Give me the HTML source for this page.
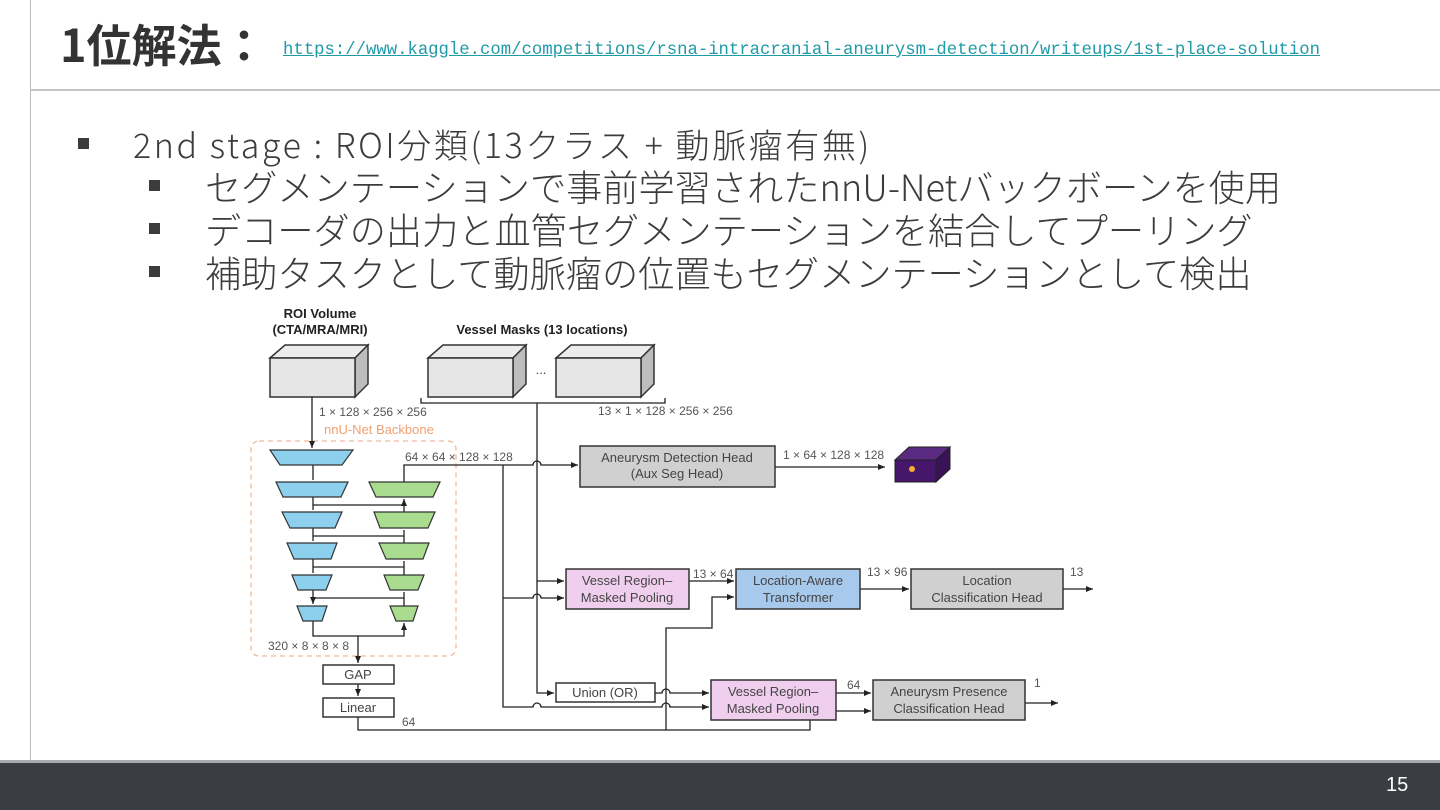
<!DOCTYPE html>
<html><head><meta charset="utf-8"><style>
body{margin:0;width:1440px;height:810px;position:relative;overflow:hidden;background:#fff;font-family:"Noto Sans CJK JP","Liberation Sans",sans-serif;color:#3c3c3c}
.a{position:absolute;white-space:nowrap}
.sq{position:absolute;width:11px;height:11px;background:#3c3c3c}
</style></head><body>
<div class="a" style="left:30px;top:0;width:1px;height:762px;background:#bbb"></div>
<div class="a" style="left:30px;top:89px;width:1410px;height:2px;background:#c4c4c4"></div>
<div class="a" style="left:60px;top:12px;font-size:45px;font-weight:bold;line-height:62px;color:#333">1位解法：</div>
<div class="a" style="left:283px;top:41px;font-family:'Liberation Mono',monospace;font-size:17.3px;color:#1f9aa8;text-decoration:underline">https://www.kaggle.com/competitions/rsna-intracranial-aneurysm-detection/writeups/1st-place-solution</div>
<div class="sq" style="left:78px;top:138px"></div>
<div class="a" style="left:133px;top:122px;font-size:34px;line-height:44px;font-weight:300;letter-spacing:2.6px">2nd stage : ROI分類(13クラス + 動脈瘤有無)</div>
<div class="sq" style="left:149px;top:180px"></div>
<div class="a" style="left:205px;top:164px;font-size:36.2px;line-height:44px;font-weight:300">セグメンテーションで事前学習されたnnU-Netバックボーンを使用</div>
<div class="sq" style="left:149px;top:223px"></div>
<div class="a" style="left:205px;top:207px;font-size:36.2px;line-height:44px;font-weight:300">デコーダの出力と血管セグメンテーションを結合してプーリング</div>
<div class="sq" style="left:149px;top:266px"></div>
<div class="a" style="left:205px;top:250px;font-size:36.2px;line-height:44px;font-weight:300">補助タスクとして動脈瘤の位置もセグメンテーションとして検出</div>

<svg class="a" style="left:0;top:0" width="1440" height="810" viewBox="0 0 1440 810" font-family="Liberation Sans, sans-serif">
<defs><marker id="ar" markerWidth="8" markerHeight="8" refX="7" refY="4" orient="auto" markerUnits="userSpaceOnUse"><path d="M0,1 L7,4 L0,7z" fill="#222"/></marker></defs>
<g font-weight="bold" font-size="13" fill="#222" text-anchor="middle">
<text x="320" y="318">ROI Volume</text><text x="320" y="334">(CTA/MRA/MRI)</text>
<text x="542" y="334">Vessel Masks (13 locations)</text></g>
<g stroke="#333" stroke-width="1.5">
<path d="M270,358 L285,345 L368,345 L355,358Z" fill="#ececec"/><path d="M355,358 L368,345 L368,384 L355,397Z" fill="#bdbdbd"/><rect x="270" y="358" width="85" height="39" fill="#e6e6e6"/>
<path d="M428,358 L443,345 L526,345 L513,358Z" fill="#ececec"/><path d="M513,358 L526,345 L526,384 L513,397Z" fill="#bdbdbd"/><rect x="428" y="358" width="85" height="39" fill="#e6e6e6"/>
<path d="M556,358 L571,345 L654,345 L641,358Z" fill="#ececec"/><path d="M641,358 L654,345 L654,384 L641,397Z" fill="#bdbdbd"/><rect x="556" y="358" width="85" height="39" fill="#e6e6e6"/>
</g>
<text x="541" y="374" font-size="13" fill="#444" text-anchor="middle">...</text>
<g fill="#555" font-size="12">
<text x="319" y="416">1 × 128 × 256 × 256</text>
<text x="598" y="415">13 × 1 × 128 × 256 × 256</text>
<text x="405" y="461">64 × 64 × 128 × 128</text>
<text x="268" y="650">320 × 8 × 8 × 8</text>
<text x="402" y="726">64</text>
<text x="783" y="459">1 × 64 × 128 × 128</text>
<text x="693" y="578">13 × 64</text>
<text x="867" y="576">13 × 96</text>
<text x="1070" y="576">13</text>
<text x="847" y="689">64</text>
<text x="1034" y="687">1</text>
</g>
<text x="324" y="434" font-size="13" fill="#f0a070">nnU-Net Backbone</text>
<rect x="251" y="441" width="205" height="215" rx="8" fill="none" stroke="#f2b89a" stroke-width="1.3" stroke-dasharray="5,4"/>
<g fill="none" stroke="#222" stroke-width="1.3">
<path d="M421,398 V403 H665 V398"/>
<path d="M312,397 V448" marker-end="url(#ar)"/>
<path d="M313,465 V480 M313,497 V510 M313,528 V541 M313,559 V573 M313,590 V604" marker-end="url(#ar)"/>
<path d="M313,505 H404 M313,536 H404 M313,567 H404 M313,598 H404"/>
<path d="M404,606 V592 M404,575 V561 M404,543 V530 M404,512 V499" marker-end="url(#ar)"/>
<path d="M313,621 V636 H404 V623" marker-end="url(#ar)"/>
<path d="M358,636 V663" marker-end="url(#ar)"/>
<path d="M358,684 V696" marker-end="url(#ar)"/>
<path d="M404,482 V465 H533 a4,4 0 0 1 8,0 H578" marker-end="url(#ar)"/>
<path d="M537,403 V693 H554" marker-end="url(#ar)"/>
<path d="M537,581 H564" marker-end="url(#ar)"/>
<path d="M503,465 V707 H533 a4,4 0 0 1 8,0 H662 a4,4 0 0 1 8,0 H709" marker-end="url(#ar)"/>
<path d="M503,598 H533 a4,4 0 0 1 8,0 H564" marker-end="url(#ar)"/>
<path d="M775,467 H885" marker-end="url(#ar)"/>
<path d="M689,581 H734" marker-end="url(#ar)"/>
<path d="M860,589 H909" marker-end="url(#ar)"/>
<path d="M1063,589 H1093" marker-end="url(#ar)"/>
<path d="M655,693 H662 a4,4 0 0 1 8,0 H709" marker-end="url(#ar)"/>
<path d="M836,693 H871" marker-end="url(#ar)"/>
<path d="M1025,703 H1058" marker-end="url(#ar)"/>
<path d="M358,717 V730 H810 V711 H871" marker-end="url(#ar)"/>
<path d="M666,730 V628 H712 V597 H734" marker-end="url(#ar)"/>
</g>
<g stroke="#333" stroke-width="1.2" fill="#8dd0ee">
<path d="M270,450 H353 L342,465 H280Z"/><path d="M276,482 H348 L341,497 H283Z"/><path d="M282,512 H342 L335,528 H290Z"/><path d="M287,543 H337 L331,559 H294Z"/><path d="M292,575 H332 L326,590 H298Z"/><path d="M297,606 H327 L322,621 H303Z"/>
</g>
<g stroke="#333" stroke-width="1.2" fill="#a9dc8e">
<path d="M369,482 H440 L433,497 H376Z"/><path d="M374,512 H435 L428,528 H380Z"/><path d="M379,543 H429 L423,559 H386Z"/><path d="M384,575 H424 L418,590 H390Z"/><path d="M390,606 H418 L413,621 H396Z"/>
</g>
<g stroke="#333" stroke-width="1.5">
<rect x="323" y="665" width="71" height="19" fill="#fff"/>
<rect x="323" y="698" width="71" height="19" fill="#fff"/>
<rect x="580" y="446" width="195" height="41" fill="#d0d0d0"/>
<rect x="566" y="569" width="123" height="40" fill="#f0cfee"/>
<rect x="736" y="569" width="124" height="40" fill="#a7c9ec"/>
<rect x="911" y="569" width="152" height="40" fill="#d0d0d0"/>
<rect x="556" y="683" width="99" height="19" fill="#fff"/>
<rect x="711" y="680" width="125" height="40" fill="#f0cfee"/>
<rect x="873" y="680" width="152" height="40" fill="#d0d0d0"/>
</g>
<path d="M895,460 L909,447 L950,447 L936,460Z" fill="#5a2a80" stroke="#222"/>
<path d="M936,460 L950,447 L950,469 L936,482Z" fill="#3a1256" stroke="#222"/>
<rect x="895" y="460" width="41" height="22" fill="#46166a" stroke="#222"/>
<circle cx="912" cy="469" r="3" fill="#f2b02c"/>
<g font-size="13" fill="#444" text-anchor="middle">
<text x="358" y="679">GAP</text><text x="358" y="712">Linear</text>
<text x="677" y="462">Aneurysm Detection Head</text><text x="677" y="478">(Aux Seg Head)</text>
<text x="627" y="585">Vessel Region–</text><text x="627" y="602">Masked Pooling</text>
<text x="798" y="585">Location-Aware</text><text x="798" y="602">Transformer</text>
<text x="987" y="585">Location</text><text x="987" y="602">Classification Head</text>
<text x="605" y="697">Union (OR)</text>
<text x="773" y="696">Vessel Region–</text><text x="773" y="713">Masked Pooling</text>
<text x="949" y="696">Aneurysm Presence</text><text x="949" y="713">Classification Head</text>
</g>
</svg>
<div class="a" style="left:0;top:760px;width:1440px;height:3px;background:#a9acae"></div>
<div class="a" style="left:0;top:763px;width:1440px;height:47px;background:#3a3e42"></div>
<div class="a" style="left:1386px;top:774px;font-size:20px;color:#fff;font-family:'Liberation Sans',sans-serif">15</div>
</body></html>
